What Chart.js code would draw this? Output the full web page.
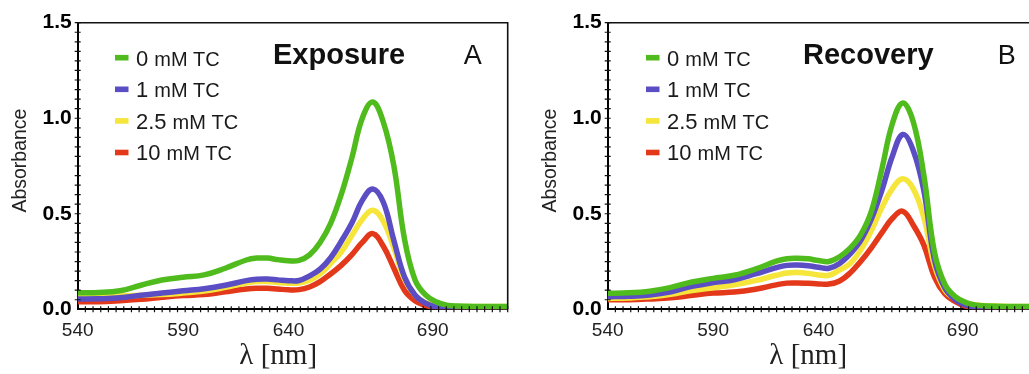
<!DOCTYPE html>
<html>
<head>
<meta charset="utf-8">
<script src="https://cdn.jsdelivr.net/npm/chart.js@4.4.1/dist/chart.umd.min.js"></script>
<style>
html, body { margin: 0; padding: 0; background: #fff; overflow: hidden; width: 1029px; height: 374px; }
.panel { position: absolute; top: 0; width: 530px; height: 374px; }
#pA { left: 0; }
#pB { left: 530px; }
canvas { display: block; }
</style>
</head>
<body>
<div class="panel" id="pA"><canvas id="cA" width="530" height="374"></canvas></div>
<div class="panel" id="pB"><canvas id="cB" width="530" height="374"></canvas></div>
<script>
// ---- data (wavelength axis as drawn in the source figure) ----
const wavelengths = [540,550,560,570,580,590,600,610,620,625,630,635,640,645,650,655,660,665,670,675,680,685,690,695,700,705,710,715,720,730,744];

const seriesLabels = ['0', '1', '2.5', '10'];
const unitLabel = 'mM TC';
const seriesColors = ['#4fbb1c', '#5b4ec4', '#f6e53a', '#e3381a'];

// Panel A – Exposure
const exposure0   = [0.087,0.088,0.097,0.126,0.153,0.168,0.180,0.215,0.258,0.268,0.268,0.260,0.254,0.256,0.285,0.350,0.450,0.600,0.790,1.000,1.085,0.980,0.750,0.370,0.155,0.075,0.040,0.022,0.017,0.015,0.015];
const exposure1   = [0.054,0.055,0.060,0.074,0.085,0.097,0.108,0.126,0.150,0.157,0.158,0.154,0.150,0.151,0.175,0.210,0.270,0.355,0.450,0.570,0.630,0.560,0.360,0.170,0.075,0.032,0.012,0.004,0.002,0.001,0.000];
const exposure2_5 = [0.068,0.068,0.070,0.074,0.077,0.085,0.095,0.115,0.138,0.145,0.145,0.140,0.136,0.138,0.152,0.185,0.240,0.300,0.385,0.470,0.518,0.460,0.320,0.160,0.075,0.035,0.022,0.017,0.015,0.015,0.015];
const exposure10  = [0.040,0.040,0.045,0.052,0.063,0.072,0.077,0.092,0.106,0.110,0.110,0.106,0.102,0.103,0.117,0.145,0.185,0.230,0.285,0.350,0.396,0.330,0.215,0.100,0.045,0.020,0.008,0.002,0.000,0.000,0.000];

// Panel B – Recovery
const recovery0   = [0.084,0.086,0.095,0.115,0.143,0.162,0.178,0.210,0.252,0.265,0.267,0.264,0.255,0.250,0.275,0.320,0.390,0.510,0.730,0.970,1.080,0.980,0.700,0.300,0.130,0.065,0.035,0.022,0.017,0.015,0.015];
const recovery1   = [0.066,0.068,0.075,0.092,0.120,0.140,0.155,0.185,0.218,0.230,0.232,0.228,0.220,0.215,0.240,0.290,0.360,0.470,0.620,0.800,0.915,0.830,0.620,0.260,0.110,0.050,0.022,0.010,0.004,0.001,0.000];
const recovery2_5 = [0.057,0.059,0.065,0.078,0.098,0.113,0.128,0.150,0.178,0.190,0.192,0.188,0.180,0.178,0.206,0.240,0.310,0.410,0.530,0.630,0.683,0.630,0.480,0.230,0.100,0.055,0.032,0.022,0.018,0.015,0.015];
const recovery10  = [0.050,0.050,0.054,0.060,0.073,0.085,0.090,0.105,0.128,0.137,0.138,0.136,0.133,0.132,0.148,0.190,0.250,0.320,0.400,0.475,0.513,0.440,0.336,0.170,0.080,0.040,0.015,0.005,0.002,0.000,0.000];

// ---- axes ----
const yTickValues = [0, 0.5, 1.0, 1.5];
const yTickLabels = ['0.0', '0.5', '1.0', '1.5'];
const xTickLabels = ['540', '590', '640', '690'];
const xTickAt = [540, 590, 640, 708.4]; // where the source figure prints its labels along the axis
const xTitle = 'λ [nm]';
const yTitle = 'Absorbance';

Chart.defaults.font.family = "'Liberation Sans', Arial, sans-serif";
Chart.defaults.color = '#1a1a1a';

const decorPlugin = {
  id: 'decor',
  afterDraw(chart, args, o) {
    const { ctx, chartArea: a, scales: { x, y } } = chart;
    ctx.save();
    // frame top / right
    ctx.strokeStyle = '#111';
    ctx.lineWidth = 1.6;
    ctx.beginPath();
    ctx.moveTo(a.left, a.top);
    ctx.lineTo(a.right, a.top);
    ctx.lineTo(a.right, a.bottom);
    ctx.stroke();
    // minor crossing ticks
    ctx.lineWidth = 1.2;
    ctx.beginPath();
    const n = 56;
    for (let i = 1; i <= n; i++) {
      const px = x.getPixelForValue(x.min + (x.max - x.min) * i / n);
      ctx.moveTo(px, a.bottom - 3);
      ctx.lineTo(px, a.bottom + 3);
    }
    for (let k = 1; k <= 30; k++) {
      const py = y.getPixelForValue(k * 0.05);
      ctx.moveTo(a.left - 3, py);
      ctx.lineTo(a.left + 3, py);
    }
    ctx.stroke();
    // legend
    chart.data.datasets.forEach((ds, i) => {
      const cy = a.top + 35 + i * 31.6;
      ctx.fillStyle = ds.borderColor;
      ctx.fillRect(a.left + o.swatchX, cy - 2.8, 13.5, 5.6);
      ctx.fillStyle = '#1a1a1a';
      ctx.textAlign = 'left';
      ctx.textBaseline = 'alphabetic';
      ctx.font = "22px 'Liberation Sans', Arial, sans-serif";
      const nx = a.left + o.numX;
      ctx.fillText(seriesLabels[i], nx, cy + 7.8);
      const w = ctx.measureText(seriesLabels[i]).width;
      ctx.font = "20px 'Liberation Sans', Arial, sans-serif";
      ctx.fillText(unitLabel, nx + w + 6, cy + 7.8);
    });
    // panel title and letter
    ctx.fillStyle = '#111';
    ctx.font = "bold 29px 'Liberation Sans', Arial, sans-serif";
    ctx.fillText(o.title, a.left + 195.3, 64);
    ctx.font = "27px 'Liberation Sans', Arial, sans-serif";
    ctx.fillText(o.letter, a.left + o.letterX, 64);
    ctx.restore();
  }
};

function makeChart(id, series, title, letter, letterX, swatchX, numX) {
  const datasets = series.map((vals, i) => ({
    label: seriesLabels[i] + ' ' + unitLabel,
    data: wavelengths.map((w, j) => ({ x: w, y: vals[j] })),
    borderColor: seriesColors[i],
    backgroundColor: seriesColors[i],
    borderWidth: 5.5,
    pointRadius: 0,
    tension: 0.4,
    borderJoinStyle: 'round',
    fill: false
  }));
  return new Chart(document.getElementById(id), {
    type: 'line',
    data: { datasets },
    options: {
      responsive: false,
      animation: false,
      devicePixelRatio: 1,
      layout: { padding: { top: 22.7, right: 22.3, bottom: 0, left: 0 } },
      plugins: {
        legend: { display: false },
        tooltip: { enabled: false },
        decor: { title, letter, letterX, swatchX, numX }
      },
      scales: {
        x: {
          type: 'linear', min: 540, max: 744,
          afterBuildTicks: s => { s.ticks = xTickAt.map(v => ({ value: v })); },
          ticks: {
            callback: (v, i) => xTickLabels[i],
            font: { size: 19 }, color: '#222', padding: 10,
            maxRotation: 0, autoSkip: false
          },
          grid: { display: false, drawTicks: false, tickLength: 0 },
          border: { display: true, color: '#000', width: 2 },
          title: {
            display: true, text: xTitle + '\u00a0\u00a0\u00a0\u00a0',
            font: { family: "'Liberation Serif', 'Times New Roman', serif", size: 29 },
            color: '#222', padding: { top: 0, bottom: 0 }
          },
          afterFit: s => { s.height = 64.7; }
        },
        y: {
          type: 'linear', min: 0, max: 1.5,
          afterBuildTicks: s => { s.ticks = yTickValues.map(v => ({ value: v })); },
          ticks: {
            callback: (v, i) => yTickLabels[i],
            font: { size: 21, weight: 'bold' }, color: '#000', padding: 6
          },
          grid: { display: false, drawTicks: false, tickLength: 0 },
          border: { display: true, color: '#000', width: 2 },
          title: {
            display: true, text: '\u00a0\u00a0' + yTitle,
            font: { size: 19.5 }, color: '#222', padding: { top: 9, bottom: 0 }
          },
          afterFit: s => { s.width = 77.7; }
        }
      }
    },
    plugins: [decorPlugin]
  });
}

makeChart('cA', [exposure0, exposure1, exposure2_5, exposure10], 'Exposure', 'A', 386, 37.3, 58.3);
makeChart('cB', [recovery0, recovery1, recovery2_5, recovery10], 'Recovery', 'B', 390, 38.3, 59.3);
</script>
</body>
</html>
